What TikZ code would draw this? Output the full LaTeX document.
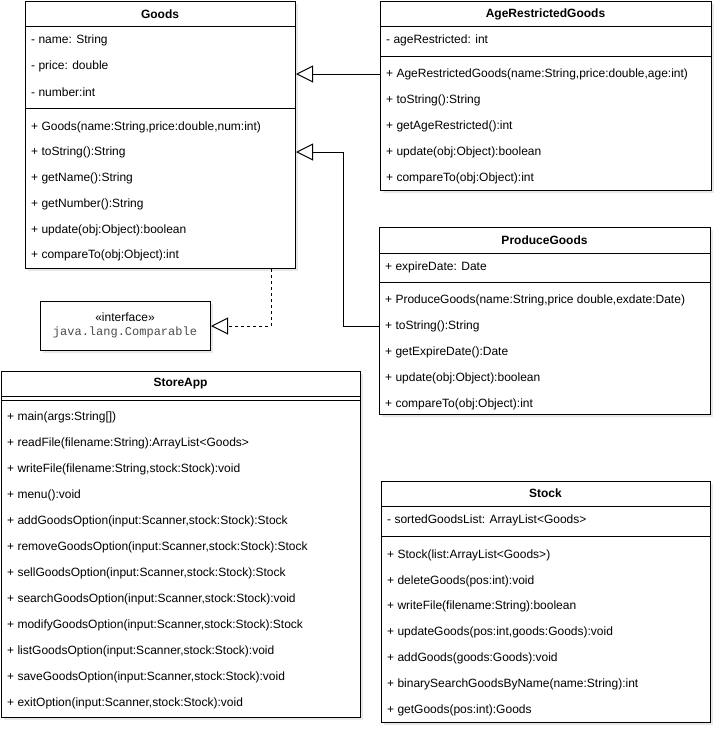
\documentclass[tikz,border=0pt]{standalone}
\usepackage{fontspec}
\setmainfont{Liberation Sans}
\newfontfamily\monofont{Liberation Mono}
\usetikzlibrary{arrows.meta,shadows}
\tikzset{
  x=1pt, y=-1pt,
  every node/.style={font=\fontsize{12}{14}\selectfont},
  classbox/.style={draw=black, line width=1pt, fill=white, anchor=north west, inner sep=0pt,
    drop shadow={opacity=0.18, shadow xshift=2pt, shadow yshift=-2pt}},
  divider/.style={line width=1pt, draw=black},
  title/.style={font=\fontsize{12}{14}\selectfont\bfseries, anchor=center},
  member/.style={anchor=west, inner sep=0pt},
  inh/.style={line width=1pt, -{Triangle[open, length=17pt, width=17pt, fill=white]}},
  real/.style={inh, dashed, dash pattern=on 3pt off 3pt},
}
\begin{document}
\begin{tikzpicture}
\useasboundingbox (0,0) rectangle (722,737);

% ---------- Goods ----------
\node[classbox, minimum width=270pt, minimum height=267pt] (goods) at (25,1) {};
\draw[divider] (25,26) -- (295,26);
\draw[divider] (25,108) -- (295,108);
\node[title] (goodsT) at (160,14) {Goods};
\node[member] (ga1) at (31,40) {- name: String};
\node[member] (ga2) at (31,66) {- price: double};
\node[member] (ga3) at (31,92) {- number:int};
\node[member] (gm1) at (31,127) {+ Goods(name:String,price:double,num:int)};
\node[member] (gm2) at (31,152) {+ toString():String};
\node[member] (gm3) at (31,178) {+ getName():String};
\node[member] (gm4) at (31,204) {+ getNumber():String};
\node[member] (gm5) at (31,230) {+ update(obj:Object):boolean};
\node[member] (gm6) at (31,255) {+ compareTo(obj:Object):int};

% ---------- AgeRestrictedGoods ----------
\node[classbox, minimum width=331pt, minimum height=189pt] (arg) at (380,1) {};
\draw[divider] (380,26) -- (711,26);
\draw[divider] (380,56) -- (711,56);
\node[title] (argT) at (545.5,14) {AgeRestrictedGoods};
\node[member] (aa1) at (386,40) {- ageRestricted: int};
\node[member] (am1) at (386,74) {+ AgeRestrictedGoods(name:String,price:double,age:int)};
\node[member] (am2) at (386,100) {+ toString():String};
\node[member] (am3) at (386,126) {+ getAgeRestricted():int};
\node[member] (am4) at (386,152) {+ update(obj:Object):boolean};
\node[member] (am5) at (386,178) {+ compareTo(obj:Object):int};

% ---------- ProduceGoods ----------
\node[classbox, minimum width=331pt, minimum height=187pt] (pg) at (379,227) {};
\draw[divider] (379,253) -- (710,253);
\draw[divider] (379,282) -- (710,282);
\node[title] (pgT) at (544.5,240) {ProduceGoods};
\node[member] (pa1) at (385,267) {+ expireDate: Date};
\node[member] (pm1) at (385,300) {+ ProduceGoods(name:String,price double,exdate:Date)};
\node[member] (pm2) at (385,326) {+ toString():String};
\node[member] (pm3) at (385,352) {+ getExpireDate():Date};
\node[member] (pm4) at (385,378) {+ update(obj:Object):boolean};
\node[member] (pm5) at (385,404) {+ compareTo(obj:Object):int};

% ---------- Interface ----------
\node[classbox, minimum width=170pt, minimum height=49pt] (iface) at (40,301) {};
\node[anchor=center, inner sep=0pt] (ifaceS) at (125,317) {«interface»};
\node[anchor=center, inner sep=0pt, text=black!70, font=\monofont\fontsize{12}{14}\selectfont] (ifaceN) at (125,332) {java.lang.Comparable};

% ---------- StoreApp ----------
\node[classbox, minimum width=359pt, minimum height=346pt] (store) at (1,371) {};
\draw[divider] (1,396) -- (360,396);
\draw[divider] (1,400) -- (360,400);
\node[title] (storeT) at (180.5,384) {StoreApp};
\node[member] (sm1) at (7,417) {+ main(args:String[])};
\node[member] (sm2) at (7,443) {+ readFile(filename:String):ArrayList<Goods>};
\node[member] (sm3) at (7,469) {+ writeFile(filename:String,stock:Stock):void};
\node[member] (sm4) at (7,495) {+ menu():void};
\node[member] (sm5) at (7,521) {+ addGoodsOption(input:Scanner,stock:Stock):Stock};
\node[member] (sm6) at (7,547) {+ removeGoodsOption(input:Scanner,stock:Stock):Stock};
\node[member] (sm7) at (7,573) {+ sellGoodsOption(input:Scanner,stock:Stock):Stock};
\node[member] (sm8) at (7,599) {+ searchGoodsOption(input:Scanner,stock:Stock):void};
\node[member] (sm9) at (7,625) {+ modifyGoodsOption(input:Scanner,stock:Stock):Stock};
\node[member] (sm10) at (7,651) {+ listGoodsOption(input:Scanner,stock:Stock):void};
\node[member] (sm11) at (7,677) {+ saveGoodsOption(input:Scanner,stock:Stock):void};
\node[member] (sm12) at (7,703) {+ exitOption(input:Scanner,stock:Stock):void};

% ---------- Stock ----------
\node[classbox, minimum width=329pt, minimum height=241pt] (stock) at (381,481) {};
\draw[divider] (381,506) -- (710,506);
\draw[divider] (381,536) -- (710,536);
\node[title] (stockT) at (545.5,493) {Stock};
\node[member] (ka1) at (387,520) {- sortedGoodsList: ArrayList<Goods>};
\node[member] (km1) at (387,555) {+ Stock(list:ArrayList<Goods>)};
\node[member] (km2) at (387,581) {+ deleteGoods(pos:int):void};
\node[member] (km3) at (387,606) {+ writeFile(filename:String):boolean};
\node[member] (km4) at (387,632) {+ updateGoods(pos:int,goods:Goods):void};
\node[member] (km5) at (387,658) {+ addGoods(goods:Goods):void};
\node[member] (km6) at (387,684) {+ binarySearchGoodsByName(name:String):int};
\node[member] (km7) at (387,710) {+ getGoods(pos:int):Goods};

% ---------- Connectors ----------
\coordinate (bendPG) at (343,326);
\draw[inh] (arg.west |- am1) -- (goods.east |- am1);
\draw[inh] (pg.west |- pm2) -- (bendPG) |- (goods.east |- gm2);
\draw[real] (goods.south -| 271,0) |- (iface.east);
\end{tikzpicture}
\end{document}
